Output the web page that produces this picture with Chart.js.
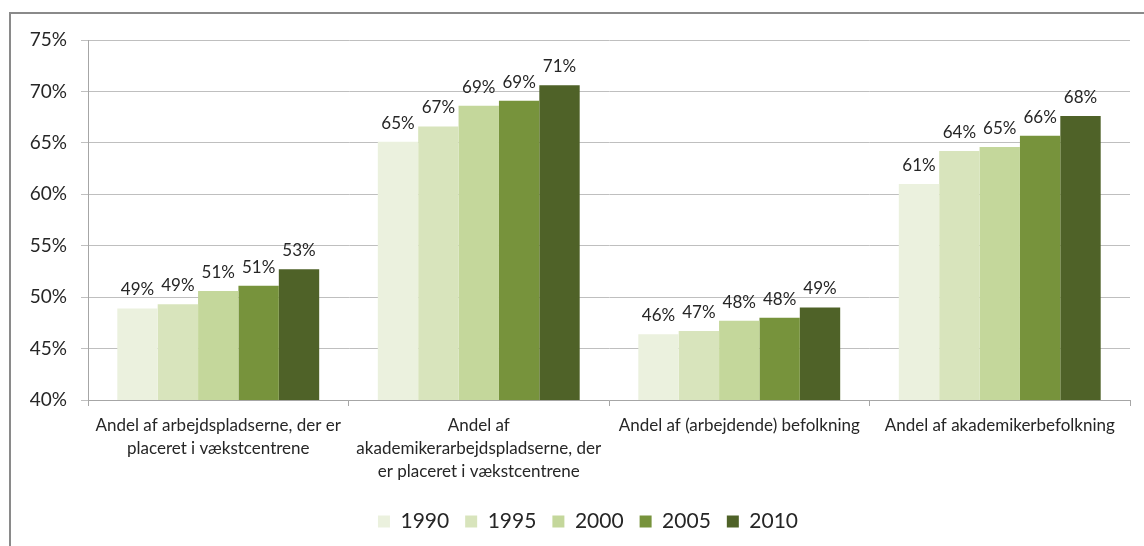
<!DOCTYPE html>
<html>
<head>
<meta charset="utf-8">
<script src="https://cdn.jsdelivr.net/npm/chart.js@4"></script>
<style>
  body { margin: 0; background: #fff; }
  #wrap { position: relative; width: 1144px; height: 546px; overflow: hidden; }
  #frame {
    position: absolute; left: 9px; top: 12px; width: 1200px; height: 600px;
    border-left: 2px solid #8a8a8a; border-top: 2px solid #8a8a8a;
  }
  canvas { position: absolute; left: 0; top: 0; }
</style>
</head>
<body>
<div id="wrap">
  <div id="frame"></div>
  <canvas id="chart" width="1144" height="546"></canvas>
</div>
<script>
// categories (wrapped like in the original)
const categories = [
  ['Andel af arbejdspladserne, der er', 'placeret i vækstcentrene'],
  ['Andel af', 'akademikerarbejdspladserne, der', 'er placeret i vækstcentrene'],
  'Andel af (arbejdende) befolkning',
  'Andel af akademikerbefolkning'
];

const years = ['1990', '1995', '2000', '2005', '2010'];

// values in percent
const v1990 = [48.9, 65.1, 46.4, 61.0];
const v1995 = [49.3, 66.6, 46.7, 64.2];
const v2000 = [50.6, 68.6, 47.7, 64.6];
const v2005 = [51.1, 69.1, 48.0, 65.7];
const v2010 = [52.7, 70.6, 49.0, 67.6];

const colors = ['#ebf1de', '#d8e4bc', '#c4d79b', '#77933c', '#4f6228'];

const yTicks = [40, 45, 50, 55, 60, 65, 70, 75];

const font = 'Lato, "Noto Sans", sans-serif';
const textColor = '#262626';

// draw the % value above each bar
const valueLabels = {
  id: 'valueLabels',
  afterDatasetsDraw(chart) {
    const ctx = chart.ctx;
    ctx.save();
    ctx.font = '17px ' + font;
    ctx.fillStyle = textColor;
    ctx.textAlign = 'center';
    ctx.textBaseline = 'alphabetic';
    chart.data.datasets.forEach((ds, i) => {
      chart.getDatasetMeta(i).data.forEach((bar, j) => {
        ctx.fillText(Math.round(ds.data[j]) + '%', bar.x, bar.y - 13);
      });
    });
    ctx.restore();
  }
};

// the original legend sits a little right of the centre
const legendShift = {
  id: 'legendShift',
  afterLayout(chart) {
    chart.legend.left += 23;
    chart.legend.right += 23;
  }
};

const allValues = [v1990, v1995, v2000, v2005, v2010];

new Chart(document.getElementById('chart'), {
  type: 'bar',
  data: {
    labels: categories,
    datasets: years.map((y, i) => ({
      label: y,
      data: allValues[i],
      backgroundColor: colors[i],
      borderWidth: 0,
      categoryPercentage: 0.775,
      barPercentage: 1.0
    }))
  },
  options: {
    responsive: false,
    animation: false,
    layout: { padding: { left: 0, right: 14, top: 40, bottom: 4 } },
    plugins: {
      tooltip: { enabled: false },
      legend: {
        position: 'bottom',
        labels: {
          font: { family: font, size: 21 },
          color: textColor,
          boxWidth: 12,
          boxHeight: 12,
          padding: 16
        }
      }
    },
    scales: {
      y: {
        min: 40,
        max: 75,
        afterFit(scale) { scale.width = 88; },
        afterBuildTicks(scale) { scale.ticks = yTicks.map(v => ({ value: v })); },
        ticks: {
          font: { family: font, size: 19 },
          color: textColor,
          padding: 14,
          callback: v => v + '%'
        },
        grid: { color: '#bfbfbf', lineWidth: 1, tickLength: 7 },
        border: { color: '#a6a6a6' }
      },
      x: {
        afterFit(scale) { scale.height = 95; },
        ticks: {
          font: { family: font, size: 17, lineHeight: 1.35 },
          color: textColor,
          autoSkip: false,
          maxRotation: 0,
          padding: 8
        },
        grid: { offset: true, drawOnChartArea: false, color: '#a6a6a6', tickLength: 6 },
        border: { color: '#a6a6a6' }
      }
    }
  },
  plugins: [valueLabels, legendShift]
});
</script>
</body>
</html>
